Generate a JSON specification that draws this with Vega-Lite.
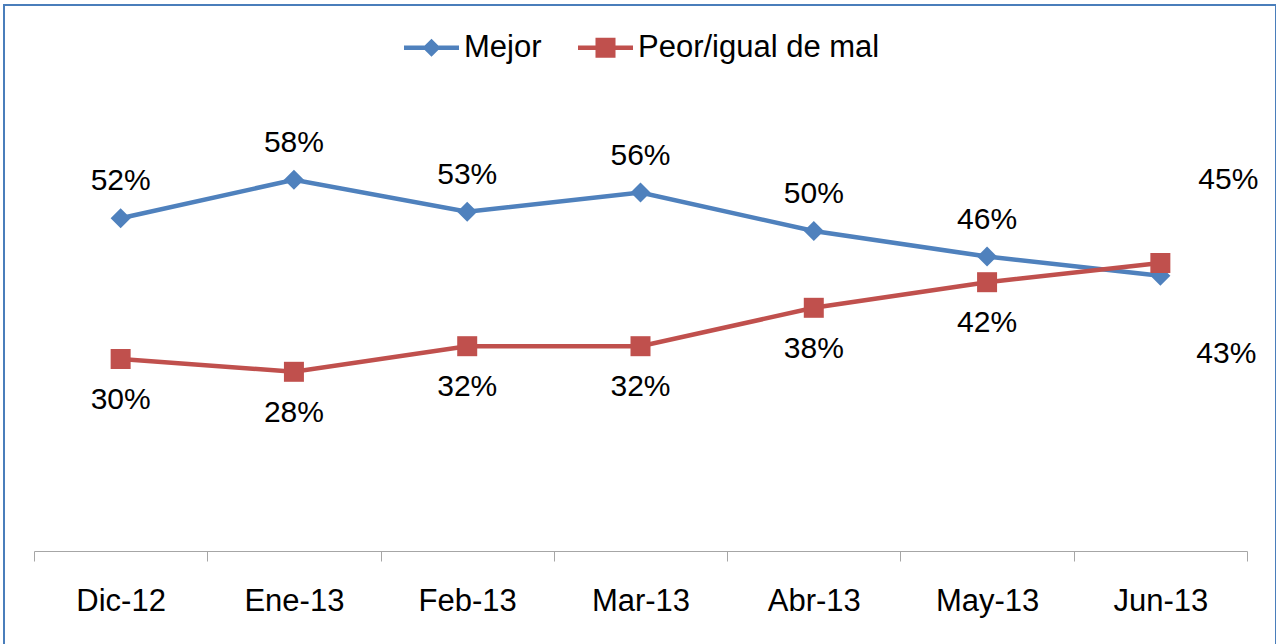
{
  "$schema": "https://vega.github.io/schema/vega-lite/v6.json",
  "width": 1272,
  "height": 645,
  "autosize": {"type": "none"},
  "padding": {"left": 4, "top": 5, "right": 0, "bottom": 0},
  "background": "white",
  "view": {"stroke": "#4A7EBB", "strokeWidth": 2},
  "config": {"font": "Liberation Sans"},
  "data": {
    "values": [
      {"mes": "Dic-12", "serie": "Mejor", "valor": 0.52},
      {"mes": "Ene-13", "serie": "Mejor", "valor": 0.58},
      {"mes": "Feb-13", "serie": "Mejor", "valor": 0.53},
      {"mes": "Mar-13", "serie": "Mejor", "valor": 0.56},
      {"mes": "Abr-13", "serie": "Mejor", "valor": 0.50},
      {"mes": "May-13", "serie": "Mejor", "valor": 0.46},
      {"mes": "Jun-13", "serie": "Mejor", "valor": 0.43},
      {"mes": "Dic-12", "serie": "Peor/igual de mal", "valor": 0.30},
      {"mes": "Ene-13", "serie": "Peor/igual de mal", "valor": 0.28},
      {"mes": "Feb-13", "serie": "Peor/igual de mal", "valor": 0.32},
      {"mes": "Mar-13", "serie": "Peor/igual de mal", "valor": 0.32},
      {"mes": "Abr-13", "serie": "Peor/igual de mal", "valor": 0.38},
      {"mes": "May-13", "serie": "Peor/igual de mal", "valor": 0.42},
      {"mes": "Jun-13", "serie": "Peor/igual de mal", "valor": 0.45}
    ]
  },
  "encoding": {
    "x": {
      "field": "mes",
      "type": "ordinal",
      "sort": ["Dic-12", "Ene-13", "Feb-13", "Mar-13", "Abr-13", "May-13", "Jun-13"],
      "scale": {"type": "band", "range": [30, 1243], "paddingInner": 0, "paddingOuter": 0},
      "axis": {
        "title": null,
        "offset": -99,
        "labelAngle": 0,
        "labelFont": "Liberation Sans",
        "labelFontSize": 31,
        "labelColor": "#000000",
        "labelBaseline": "alphabetic",
        "labelPadding": 49,
        "tickBand": "extent",
        "tickSize": 10,
        "tickColor": "#A6A6A6",
        "domainColor": "#A6A6A6",
        "tickWidth": 1,
        "domainWidth": 1,
        "grid": false
      }
    },
    "y": {
      "field": "valor",
      "type": "quantitative",
      "scale": {"domain": [0, 0.7], "range": [546, 98]},
      "axis": null
    },
    "color": {
      "field": "serie",
      "type": "nominal",
      "scale": {"domain": ["Mejor", "Peor/igual de mal"], "range": ["#4F81BD", "#C0504D"]},
      "legend": {
        "orient": "none",
        "legendX": 400,
        "legendY": 15,
        "direction": "horizontal",
        "title": null,
        "padding": 0,
        "labelFont": "Liberation Sans",
        "labelFontSize": 31,
        "labelColor": "#000000",
        "labelLimit": 0,
        "labelOffset": 5,
        "columnPadding": 36,
        "symbolSize": 3025,
        "encode": {
          "symbols": {
            "update": {
              "shape": {"signal": "datum.value === 'Mejor' ? 'M-1,-0.08L-0.247,-0.08L0,-0.327L0.247,-0.08L1,-0.08L1,0.08L0.247,0.08L0,0.327L-0.247,0.08L-1,0.08Z' : 'M-1,-0.08L-0.364,-0.08L-0.364,-0.364L0.364,-0.364L0.364,-0.08L1,-0.08L1,0.08L0.364,0.08L0.364,0.364L-0.364,0.364L-0.364,0.08L-1,0.08Z'"},
              "fill": {"signal": "datum.value === 'Mejor' ? '#4F81BD' : '#C0504D'"},
              "stroke": {"value": "transparent"},
              "strokeWidth": {"value": 0},
              "opacity": {"value": 1},
              "fillOpacity": {"value": 1}
            }
          }
        }
      }
    }
  },
  "layer": [
    {"mark": {"type": "line", "strokeWidth": 4.5}},
    {
      "transform": [{"filter": "datum.serie === 'Mejor'"}],
      "mark": {"type": "point", "shape": "diamond", "filled": true, "size": 400, "opacity": 1}
    },
    {
      "transform": [{"filter": "datum.serie !== 'Mejor'"}],
      "mark": {"type": "point", "shape": "square", "filled": true, "size": 400, "opacity": 1}
    },
    {
      "transform": [{"filter": "datum.serie === 'Mejor' && datum.mes !== 'Jun-13'"}],
      "mark": {"type": "text", "baseline": "alphabetic", "dy": -28, "font": "Liberation Sans", "fontSize": 30},
      "encoding": {"text": {"field": "valor", "format": ".0%"}, "color": {"value": "#000000"}}
    },
    {
      "transform": [{"filter": "datum.serie !== 'Mejor' && datum.mes !== 'Jun-13'"}],
      "mark": {"type": "text", "baseline": "alphabetic", "dy": 50, "font": "Liberation Sans", "fontSize": 30},
      "encoding": {"text": {"field": "valor", "format": ".0%"}, "color": {"value": "#000000"}}
    },
    {
      "transform": [{"filter": "datum.serie === 'Mejor' && datum.mes === 'Jun-13'"}],
      "mark": {"type": "text", "baseline": "alphabetic", "dx": 66, "dy": 87, "font": "Liberation Sans", "fontSize": 30},
      "encoding": {"text": {"field": "valor", "format": ".0%"}, "color": {"value": "#000000"}}
    },
    {
      "transform": [{"filter": "datum.serie !== 'Mejor' && datum.mes === 'Jun-13'"}],
      "mark": {"type": "text", "baseline": "alphabetic", "dx": 68, "dy": -74, "font": "Liberation Sans", "fontSize": 30},
      "encoding": {"text": {"field": "valor", "format": ".0%"}, "color": {"value": "#000000"}}
    }
  ]
}
